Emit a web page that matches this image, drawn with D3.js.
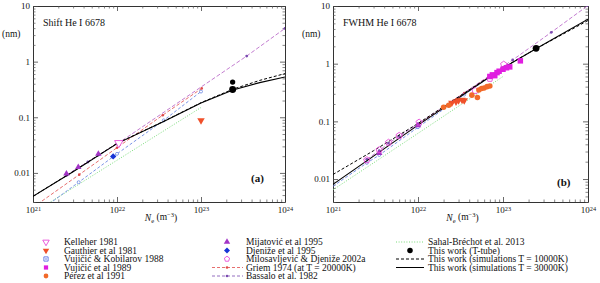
<!DOCTYPE html>
<html>
<head>
<meta charset="utf-8">
<script src="https://cdn.jsdelivr.net/npm/d3@7"></script>
<style>
  body { margin: 0; background: #fff; }
  svg text { font-family: "Liberation Serif", "Times New Roman", serif; fill: #111; }
</style>
</head>
<body>
<svg id="chart" width="600" height="283"></svg>
<script>
// axis ticks
const xMajor = [1e21, 1e22, 1e23, 1e24];
const xMajorExp = ["21", "22", "23", "24"];
const yMajor = [0.01, 0.1, 1, 10];
const yMajorLabels = ["0.01", "0.1", "1", "10"];

// ---- panel (a): shift, values [Ne m^-3, nm]
const shiftSim30k = [[1e21, 0.0038], [3e21, 0.0105], [1e22, 0.0336], [3.5e22, 0.082], [1e23, 0.18], [2.4e23, 0.31], [5e23, 0.42], [1e24, 0.53]];
const shiftSim10k = [[1e21, 0.0038], [3e21, 0.0106], [1e22, 0.034], [3.5e22, 0.083], [1e23, 0.183], [2.4e23, 0.32], [5e23, 0.46], [1e24, 0.61]];
const shiftSahal = [[1e21, 0.0019], [1.43e22, 0.0237], [1e23, 0.15]];
const shiftGriemTail = [1e21, 0.0024];
const shiftGriem = [[3.55e21, 0.0093], [1e22, 0.0284], [3.5e22, 0.109], [1.02e23, 0.33]];
const shiftBlueTail = [1e21, 0.0017];
const shiftBlue = [[3.5e21, 0.0068], [1e22, 0.022], [3.6e22, 0.088], [1e23, 0.29]];
const shiftBassalo = [[2.5e21, 0.009], [3.5e21, 0.0127], [4.5e21, 0.0157], [6e21, 0.021], [1e22, 0.033], [3.5e23, 1.26], [1e24, 3.96]];
const shiftKelleher = [[1.05e22, 0.0345]];
const shiftGauthier = [[1e23, 0.088]];
const shiftDjenize = [[9e21, 0.0198]];
const shiftMijatovic = [[2.5e21, 0.0097], [3.46e21, 0.0127], [6e21, 0.022]];
const shiftThisWork = [[2.38e23, 0.43], [2.38e23, 0.315]];

// ---- panel (b): FWHM
const fwhmSim30k = [[1e21, 0.0081], [1e22, 0.086], [1e23, 0.84], [2.5e23, 1.85], [1e24, 5.9]];
const fwhmSim10k = [[1e21, 0.012], [3e21, 0.031], [1e22, 0.092], [1e23, 0.85], [2.5e23, 1.85], [1e24, 5.6]];
const fwhmSahal = [[1e21, 0.0065], [1e22, 0.062], [1e23, 0.6]];
const fwhmGriem = [[1e22, 0.088], [3.5e22, 0.31], [1e23, 0.86]];
const fwhmBlueTail = [1e21, 0.0075];
const fwhmBlue = [[2.5e21, 0.019], [3.5e21, 0.026], [1e22, 0.079], [3.5e22, 0.29], [1e23, 0.85]];
const fwhmBassalo = [[2.5e21, 0.022], [3.5e21, 0.031], [4.5e21, 0.042], [6e21, 0.055], [1e22, 0.09], [1.3e23, 1.16], [3.7e23, 3.5], [1e24, 10.2]];
const fwhmMilos = [[2.5e21, 0.0214], [3.5e21, 0.032], [4.5e21, 0.043], [6e21, 0.0565], [1.03e22, 0.096], [4.7e22, 0.34], [7e22, 0.55], [1.02e23, 0.97]];
const fwhmMijatovic = [[3.5e21, 0.028], [1e22, 0.085]];
const fwhmVujicic89 = [[7e22, 0.6], [7.5e22, 0.64], [8e22, 0.62], [8.5e22, 0.7], [9e22, 0.74], [1e23, 0.8], [1.1e23, 0.85], [1.2e23, 0.88], [1.6e23, 1.12]];
const fwhmPerez = [[2e22, 0.175], [2.3e22, 0.19], [4.3e22, 0.285], [5e22, 0.26], [5.2e22, 0.35], [5.6e22, 0.37], [6e22, 0.38], [6.5e22, 0.4], [7e22, 0.41]];
const fwhmGauthier = [[2.5e22, 0.21], [2.8e22, 0.22], [3e22, 0.23], [3.3e22, 0.235], [3.5e22, 0.23]];
const fwhmThisWork = [[2.45e23, 1.85]];

// legend text
const legendCol1 = ["Kelleher 1981", "Gauthier et al 1981", "Vujičić & Kobilarov 1988", "Vujičić et al 1989", "Pérez et al 1991"];
const legendCol2 = ["Mijatović et al 1995", "Djeniže et al 1995", "Milosavljević & Djeniže 2002a", "Griem 1974 (at T = 20000K)", "Bassalo et al. 1982"];
const legendCol3 = ["Sahal-Bréchot et al. 2013", "This work (T-tube)", "This work (simulations T = 10000K)", "This work (simulations T = 30000K)"];

const svg = d3.select("#chart");
svg.append("rect").attr("width", 600).attr("height", 283).attr("fill", "#fff");

const C = {
  pink: "#e84ad8",
  gauthier: "#f0502a",
  blueSq: "#5a72e6",
  magenta: "#e01ee0",
  perez: "#f26a2a",
  mij: "#a235c6",
  djen: "#1834d6",
  griem: "#e04a4a",
  bassalo: "#b45cc4",
  bassaloDot: "#7a4ab0",
  blue: "#5a7ae0",
  sahal: "#6cd86c",
};

function symbolPath(shape, size) {
  if (shape === "pentagon") {
    const r = Math.sqrt(size / 2.38);
    const pts = d3.range(5).map((i) => {
      const a = -Math.PI / 2 + (i * 2 * Math.PI) / 5;
      return [r * Math.cos(a), r * Math.sin(a)];
    });
    return "M" + pts.map((p) => p.join(",")).join("L") + "Z";
  }
  const t = {
    tri: d3.symbolTriangle,
    triDown: d3.symbolTriangle,
    square: d3.symbolSquare,
    diamond: d3.symbolSquare,
    circle: d3.symbolCircle,
  }[shape];
  return d3.symbol().type(t).size(size)();
}
function symbolRotate(shape) {
  if (shape === "triDown") return " rotate(180)";
  if (shape === "diamond") return " rotate(45)";
  return "";
}

const styles = {
  kelleher: { shape: "triDown", fill: "#fff", stroke: C.pink, size: 30 },
  gauthier: { shape: "triDown", fill: C.gauthier, stroke: "none", size: 24 },
  vujicicK: { shape: "square", fill: "#fff", stroke: C.blueSq, size: 24, dot: true },
  vujicic89: { shape: "square", fill: C.magenta, stroke: "none", size: 30 },
  perez: { shape: "circle", fill: C.perez, stroke: "none", size: 24 },
  mijatovic: { shape: "tri", fill: C.mij, stroke: "none", size: 18 },
  djenize: { shape: "diamond", fill: C.djen, stroke: "none", size: 20 },
  milos: { shape: "pentagon", fill: "none", stroke: C.pink, size: 26 },
  thiswork: { shape: "circle", fill: "#000", stroke: "none", size: 30 },
};

function drawSymbol(g, cx, cy, st, size) {
  g.append("path")
    .attr("d", symbolPath(st.shape, size || st.size))
    .attr("transform", "translate(" + cx + "," + cy + ")" + symbolRotate(st.shape))
    .attr("fill", st.fill)
    .attr("stroke", st.stroke)
    .attr("stroke-width", 0.9);
  if (st.dot) {
    g.append("circle").attr("cx", cx).attr("cy", cy).attr("r", 0.8).attr("fill", st.stroke);
  }
}

function drawPanel(p) {
  const x = d3.scaleLog().domain([1e21, 1e24]).range([p.x0, p.x1]);
  const y = d3.scaleLog().domain([p.ymin, 10]).range([p.y1, p.y0]);
  const g = svg.append("g");

  g.append("clipPath").attr("id", p.id + "clip")
    .append("rect").attr("x", p.x0).attr("y", p.y0)
    .attr("width", p.x1 - p.x0).attr("height", p.y1 - p.y0);

  const xMinor = [];
  [21, 22, 23].forEach((e) => d3.range(2, 10).forEach((m) => xMinor.push(m * Math.pow(10, e))));
  const yMinor = [];
  [-3, -2, -1, 0].forEach((e) => d3.range(2, 10).forEach((m) => {
    const v = m * Math.pow(10, e);
    if (v >= p.ymin && v < 10) yMinor.push(v);
  }));

  // frame + ticks on all four sides (inward)
  const sides = [
    { ax: d3.axisBottom(x), t: "translate(0," + p.y1 + ")", maj: xMajor, min: xMinor, lab: true },
    { ax: d3.axisTop(x), t: "translate(0," + p.y0 + ")", maj: xMajor, min: xMinor },
    { ax: d3.axisLeft(y), t: "translate(" + p.x0 + ",0)", maj: yMajor, min: yMinor, lab: true },
    { ax: d3.axisRight(y), t: "translate(" + p.x1 + ",0)", maj: yMajor, min: yMinor },
  ];
  sides.forEach((s, i) => {
    const major = g.append("g").attr("transform", s.t)
      .call(s.ax.tickValues(s.maj).tickSizeInner(-5).tickSizeOuter(0)
        .tickPadding(i === 0 ? 5 : 3).tickFormat(() => ""));
    major.select(".domain").attr("stroke", "#333");
    major.selectAll(".tick line").attr("stroke", "#444").attr("stroke-width", 0.8);
    major.attr("font-family", null).attr("font-size", 9);
    if (i === 0) {
      major.selectAll(".tick text").each(function (d, k) {
        const t = d3.select(this);
        t.append("tspan").text("10");
        t.append("tspan").attr("dy", "-0.45em").attr("font-size", 6.3).text(xMajorExp[k]);
      });
    }
    if (i === 2) {
      major.selectAll(".tick text").text((d, k) => yMajorLabels[k]);
    }
    if (!s.lab) major.selectAll(".tick text").remove();

    const minor = g.append("g").attr("transform", s.t)
      .call(s.ax.tickValues(s.min).tickSizeInner(-2.5).tickSizeOuter(0).tickFormat(() => ""));
    minor.select(".domain").remove();
    minor.selectAll(".tick text").remove();
    minor.selectAll(".tick line").attr("stroke", "#555").attr("stroke-width", 0.7);
  });

  const line = d3.line().x((d) => x(d[0])).y((d) => y(d[1]));
  const plot = g.append("g").attr("clip-path", "url(#" + p.id + "clip)");

  p.lines.forEach((l) => {
    plot.append("path")
      .attr("d", line(l.data))
      .attr("fill", "none")
      .attr("stroke", l.color)
      .attr("stroke-width", l.width)
      .attr("stroke-dasharray", l.dash);
    if (l.dots) {
      plot.selectAll(null).data(l.dots).join("circle")
        .attr("cx", (d) => x(d[0])).attr("cy", (d) => y(d[1]))
        .attr("r", l.dotR)
        .attr("fill", l.dotFill)
        .attr("stroke", l.dotStroke || "none")
        .attr("stroke-width", 0.7);
    }
  });

  p.marks.forEach((m) => {
    m.data.forEach((d, k) => {
      drawSymbol(plot, x(d[0]), y(d[1]), styles[m.style], m.sizes ? m.sizes[k] : null);
    });
  });

  g.append("text").attr("x", p.x0 + 10).attr("y", 26).attr("font-size", 10).text(p.title);
  g.append("text").attr("x", p.x0 - 31).attr("y", 37).attr("font-size", 9.5).text("(nm)");
  g.append("text").attr("x", p.tagX).attr("y", p.tagY).attr("font-size", 11)
    .attr("font-weight", "bold").text(p.tag);

  const xl = g.append("text").attr("x", (p.x0 + p.x1) / 2 + 2).attr("y", 221)
    .attr("text-anchor", "middle").attr("font-size", 9.5);
  xl.append("tspan").attr("font-style", "italic").text("N");
  xl.append("tspan").attr("font-size", 6.5).attr("dy", "0.3em").text("e");
  xl.append("tspan").attr("dy", "-0.3em").text(" (m");
  xl.append("tspan").attr("font-size", 6.5).attr("dy", "-0.45em").text("−3");
  xl.append("tspan").attr("dy", "0.45em").text(")");
}

const blackSolid = { color: "#000", width: 1.1, dash: null };
const blackDash = { color: "#000", width: 1, dash: "3,2" };

drawPanel({
  id: "a", x0: 33, x1: 285, y0: 6, y1: 202, ymin: 0.003,
  title: "Shift He I 6678", tag: "(a)", tagX: 251, tagY: 182,
  lines: [
    { data: shiftSahal, color: C.sahal, width: 0.9, dash: "1,1.6" },
    { data: [shiftBlueTail].concat(shiftBlue), color: C.blue, width: 0.8, dash: "3,2",
      dots: shiftBlue, dotR: 1.5, dotFill: "#fff", dotStroke: C.blue },
    { data: [shiftGriemTail].concat(shiftGriem), color: C.griem, width: 0.8, dash: "3.5,2",
      dots: shiftGriem, dotR: 1.3, dotFill: C.griem },
    { data: shiftBassalo, color: C.bassalo, width: 0.8, dash: "4,2",
      dots: shiftBassalo, dotR: 1.4, dotFill: C.bassaloDot },
    Object.assign({ data: shiftSim10k }, blackDash),
    Object.assign({ data: shiftSim30k }, blackSolid),
  ],
  marks: [
    { style: "mijatovic", data: shiftMijatovic },
    { style: "kelleher", data: shiftKelleher },
    { style: "gauthier", data: shiftGauthier },
    { style: "djenize", data: shiftDjenize },
    { style: "thiswork", data: shiftThisWork, sizes: [22, 38] },
  ],
});

drawPanel({
  id: "b", x0: 333, x1: 588, y0: 6, y1: 202, ymin: 0.004,
  title: "FWHM He I 6678", tag: "(b)", tagX: 557, tagY: 186,
  lines: [
    { data: fwhmSahal, color: C.sahal, width: 0.9, dash: "1,1.6" },
    { data: [fwhmBlueTail].concat(fwhmBlue), color: C.blue, width: 0.8, dash: "3,2",
      dots: fwhmBlue, dotR: 1.4, dotFill: "#fff", dotStroke: C.blue },
    { data: fwhmGriem, color: C.griem, width: 0.8, dash: "3.5,2",
      dots: fwhmGriem, dotR: 1.3, dotFill: C.griem },
    { data: fwhmBassalo, color: C.bassalo, width: 0.8, dash: "4,2",
      dots: fwhmBassalo, dotR: 1.4, dotFill: C.bassaloDot },
    Object.assign({ data: fwhmSim10k }, blackDash),
    Object.assign({ data: fwhmSim30k }, blackSolid),
  ],
  marks: [
    { style: "mijatovic", data: fwhmMijatovic },
    { style: "milos", data: fwhmMilos },
    { style: "gauthier", data: fwhmGauthier },
    { style: "perez", data: fwhmPerez },
    { style: "vujicic89", data: fwhmVujicic89 },
    { style: "thiswork", data: fwhmThisWork, sizes: [36] },
  ],
});

// ---- legend
const rowY = [242, 250.5, 259, 267.5, 276];
const leg = svg.append("g").attr("font-size", 9.5);

const col1Styles = ["kelleher", "gauthier", "vujicicK", "vujicic89", "perez"];
legendCol1.forEach((name, i) => {
  drawSymbol(leg, 46, rowY[i], styles[col1Styles[i]], 18);
  leg.append("text").attr("x", 64).attr("y", rowY[i] + 3).text(name);
});

const col2Styles = ["mijatovic", "djenize", "milos"];
legendCol2.forEach((name, i) => {
  if (i < 3) {
    drawSymbol(leg, 227, rowY[i], styles[col2Styles[i]], 18);
  } else {
    const lc = i === 3 ? C.griem : C.bassaloDot;
    leg.append("line").attr("x1", 212).attr("x2", 243).attr("y1", rowY[i]).attr("y2", rowY[i])
      .attr("stroke", lc).attr("stroke-width", 0.8).attr("stroke-dasharray", "3,2");
    leg.append("circle").attr("cx", 227).attr("cy", rowY[i]).attr("r", 1.3).attr("fill", lc);
  }
  leg.append("text").attr("x", 246).attr("y", rowY[i] + 3).text(name);
});

legendCol3.forEach((name, i) => {
  if (i === 0) {
    leg.append("line").attr("x1", 396).attr("x2", 424).attr("y1", rowY[i]).attr("y2", rowY[i])
      .attr("stroke", C.sahal).attr("stroke-width", 0.9).attr("stroke-dasharray", "1,1.6");
  } else if (i === 1) {
    drawSymbol(leg, 410, rowY[i], styles.thiswork, 24);
  } else {
    leg.append("line").attr("x1", 396).attr("x2", 424).attr("y1", rowY[i]).attr("y2", rowY[i])
      .attr("stroke", "#000").attr("stroke-width", 1)
      .attr("stroke-dasharray", i === 2 ? "3,2" : null);
  }
  leg.append("text").attr("x", 428).attr("y", rowY[i] + 3).text(name);
});
</script>
</body>
</html>
